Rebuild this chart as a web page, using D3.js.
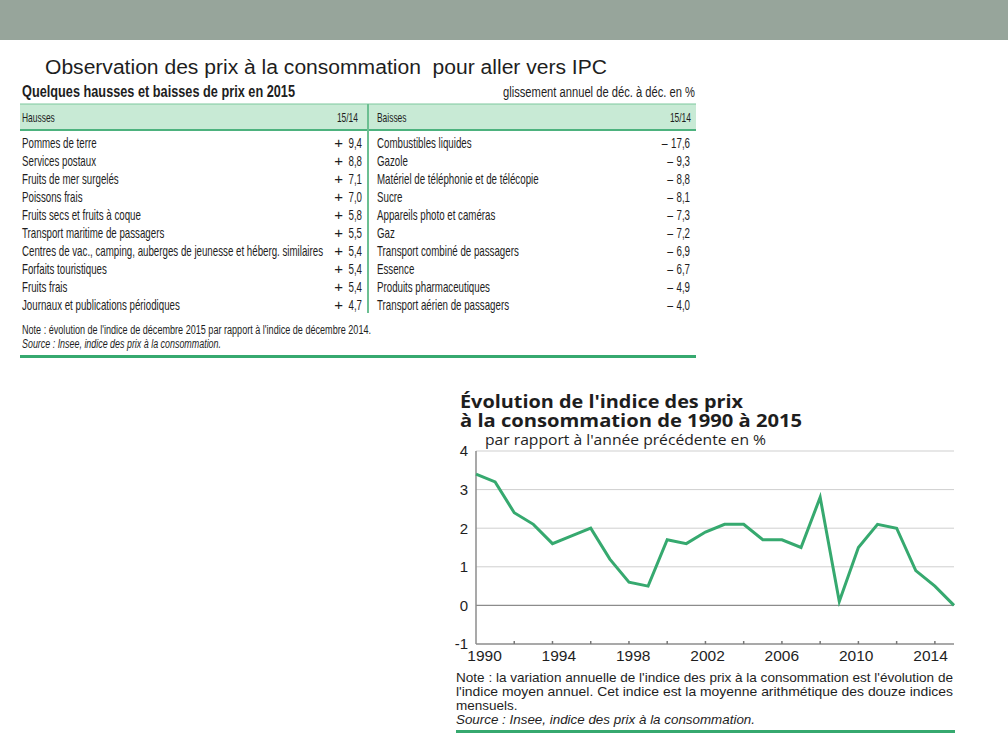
<!DOCTYPE html>
<html>
<head>
<meta charset="utf-8">
<script src="https://cdn.jsdelivr.net/npm/d3@7"></script>
<style>
  body { margin: 0; background: #fff; }
  svg { display: block; }
  text { font-family: "Liberation Sans", Arial, sans-serif; fill: #1e1e1e; font-variant-ligatures: none; }
</style>
</head>
<body>
<script>
// --- table data
var hausseLabels = ['Pommes de terre', 'Services postaux', 'Fruits de mer surgelés', 'Poissons frais',
  'Fruits secs et fruits à coque', 'Transport maritime de passagers',
  'Centres de vac., camping, auberges de jeunesse et héberg. similaires',
  'Forfaits touristiques', 'Fruits frais', 'Journaux et publications périodiques'];
var hausseValues = [9.4, 8.8, 7.1, 7.0, 5.8, 5.5, 5.4, 5.4, 5.4, 4.7];
var baisseLabels = ['Combustibles liquides', 'Gazole', 'Matériel de téléphonie et de télécopie', 'Sucre',
  'Appareils photo et caméras', 'Gaz', 'Transport combiné de passagers', 'Essence',
  'Produits pharmaceutiques', 'Transport aérien de passagers'];
var baisseValues = [-17.6, -9.3, -8.8, -8.1, -7.3, -7.2, -6.9, -6.7, -4.9, -4.0];

// --- line chart data
var years = [1990, 1991, 1992, 1993, 1994, 1995, 1996, 1997, 1998, 1999, 2000, 2001, 2002,
  2003, 2004, 2005, 2006, 2007, 2008, 2009, 2010, 2011, 2012, 2013, 2014, 2015];
var ipc = [3.4, 3.2, 2.4, 2.1, 1.6, 1.8, 2.0, 1.2, 0.6, 0.5, 1.7, 1.6, 1.9,
  2.1, 2.1, 1.7, 1.7, 1.5, 2.8, 0.1, 1.5, 2.1, 2.0, 0.9, 0.5, 0.0];
var yTicks = [-1, 0, 1, 2, 3, 4];
var xLabelYears = [1990, 1994, 1998, 2002, 2006, 2010, 2014];
var xMinorYears = [1992, 1994, 1996, 1998, 2000, 2002, 2004, 2006, 2008, 2010, 2012, 2014];

var green = '#36a96f';

var svg = d3.select('body').append('svg')
  .attr('width', 1008)
  .attr('height', 756);

// measure a string in a given font
function textWidth(str, font) {
  var t = svg.append('text').style('font', font).text(str);
  var w = t.node().getComputedTextLength();
  t.remove();
  return w;
}

// squeeze text horizontally (condensed look)
function condense(sel, k) {
  sel.each(function () {
    var w = this.getComputedTextLength();
    d3.select(this).attr('textLength', w * k).attr('lengthAdjust', 'spacingAndGlyphs');
  });
}

function frNum(v) {
  return d3.format('.1f')(Math.abs(v)).replace('.', ',');
}

// banner + page title
svg.append('rect').attr('x', 0).attr('y', 0).attr('width', 1008).attr('height', 40).attr('fill', '#97a59b');
svg.append('text')
  .attr('x', 45).attr('y', 74)
  .style('font-size', '20px')
  .style('white-space', 'pre')
  .attr('fill', '#000')
  .text('Observation des prix à la consommation  pour aller vers IPC')
  .attr('textLength', 562).attr('lengthAdjust', 'spacingAndGlyphs');

// ---------------- table
var k = 301 / textWidth(hausseLabels[6], '15px "Liberation Sans"');
var table = svg.append('g');

table.append('text')
  .attr('x', 22).attr('y', 97)
  .style('font-size', '17px').style('font-weight', 'bold')
  .text('Quelques hausses et baisses de prix en 2015')
  .attr('textLength', 273).attr('lengthAdjust', 'spacingAndGlyphs');

table.append('text')
  .attr('x', 695).attr('y', 97)
  .attr('text-anchor', 'end')
  .style('font-size', '14px')
  .text('glissement annuel de déc. à déc. en %')
  .attr('textLength', 192).attr('lengthAdjust', 'spacingAndGlyphs');

table.append('rect')
  .attr('x', 20).attr('y', 104).attr('width', 676).attr('height', 26)
  .attr('fill', '#c8ead5');
table.append('line').attr('x1', 20).attr('x2', 696).attr('y1', 104).attr('y2', 104)
  .attr('stroke', '#7cc79d').attr('stroke-width', 1);
table.append('line').attr('x1', 20).attr('x2', 696).attr('y1', 130).attr('y2', 130)
  .attr('stroke', '#4db27e').attr('stroke-width', 2);
table.append('line').attr('x1', 368).attr('x2', 368).attr('y1', 104).attr('y2', 313)
  .attr('stroke', '#6cbf92').attr('stroke-width', 2);

var header = [
  { t: 'Hausses', x: 22, a: 'start' }, { t: '15/14', x: 358, a: 'end' },
  { t: 'Baisses', x: 377, a: 'start' }, { t: '15/14', x: 691, a: 'end' }
];
table.selectAll('.hdr').data(header).enter().append('text')
  .attr('class', 'hdr')
  .attr('x', function (d) { return d.x; }).attr('y', 122)
  .attr('text-anchor', function (d) { return d.a; })
  .style('font-size', '13px')
  .text(function (d) { return d.t; })
  .call(condense, k);

var rowY = d3.scalePoint().domain(d3.range(hausseLabels.length)).range([148, 310]);

function rows(labels, values, xLabel, xValue, xSign, sign) {
  table.selectAll(null).data(labels).enter().append('text')
    .attr('x', xLabel).attr('y', function (d, i) { return rowY(i); })
    .style('font-size', '15px')
    .text(function (d) { return d; })
    .call(condense, k);
  table.selectAll(null).data(values).enter().append('text')
    .attr('x', xValue).attr('y', function (d, i) { return rowY(i); })
    .attr('text-anchor', 'end')
    .style('font-size', '15px')
    .text(function (d) { return frNum(d); })
    .call(condense, k);
  table.selectAll(null).data(values).enter().append('text')
    .attr('x', function (d) { return xSign(d); }).attr('y', function (d, i) { return rowY(i); })
    .attr('text-anchor', 'end')
    .style('font-size', '15px')
    .text(sign)
    .call(condense, sign === '+' ? 1 : 0.7);
}
rows(hausseLabels, hausseValues, 22, 362, function () { return 343; }, '+');
rows(baisseLabels, baisseValues, 377, 690, function (d) {
  return 690 - textWidth(frNum(d), '15px "Liberation Sans"') * k - 3.5;
}, '–');

table.append('text')
  .attr('x', 22).attr('y', 334)
  .style('font-size', '12.5px')
  .text('Note : évolution de l\'indice de décembre 2015 par rapport à l\'indice de décembre 2014.')
  .attr('textLength', 349).attr('lengthAdjust', 'spacingAndGlyphs');
table.append('text')
  .attr('x', 22).attr('y', 348)
  .style('font-size', '12.5px').style('font-style', 'italic')
  .text('Source : Insee, indice des prix à la consommation.')
  .attr('textLength', 199).attr('lengthAdjust', 'spacingAndGlyphs');
table.append('line').attr('x1', 20).attr('x2', 696).attr('y1', 356.5).attr('y2', 356.5)
  .attr('stroke', green).attr('stroke-width', 3);

// ---------------- line chart
var x = d3.scaleLinear().domain([1990, 2015]).range([476, 954]);
var y = d3.scaleLinear().domain([-1, 4]).range([644, 451]);
// year labels sit slightly off their ticks in the original
var xLab = d3.scaleLinear().domain([1990, 2014]).range([484, 930]);
var chart = svg.append('g');

chart.append('text')
  .attr('x', 460).attr('y', 408)
  .style('font-family', '"Open Sans", Lato, sans-serif')
  .style('font-size', '18px').style('font-weight', 'bold')
  .attr('fill', '#111')
  .text('Évolution de l\'indice des prix')
  .attr('textLength', 283).attr('lengthAdjust', 'spacingAndGlyphs');
chart.append('text')
  .attr('x', 460).attr('y', 427)
  .style('font-family', '"Open Sans", Lato, sans-serif')
  .style('font-size', '18px').style('font-weight', 'bold')
  .attr('fill', '#111')
  .text('à la consommation de 1990 à 2015')
  .attr('textLength', 342).attr('lengthAdjust', 'spacingAndGlyphs');

// gridlines
chart.selectAll('.grid').data(yTicks.filter(function (d) { return d > 0; })).enter().append('line')
  .attr('class', 'grid')
  .attr('x1', x(1990)).attr('x2', x(2015))
  .attr('y1', function (d) { return y(d); }).attr('y2', function (d) { return y(d); })
  .attr('stroke', '#cfcfcf').attr('stroke-width', 1);
chart.append('line')
  .attr('x1', x(1990)).attr('x2', x(2015)).attr('y1', y(0)).attr('y2', y(0))
  .attr('stroke', '#8c8c8c').attr('stroke-width', 1.3);

chart.append('text')
  .attr('x', 485).attr('y', 445)
  .style('font-family', '"Open Sans", Lato, sans-serif')
  .style('font-size', '15px')
  .text('par rapport à l\'année précédente en %')
  .attr('textLength', 281).attr('lengthAdjust', 'spacingAndGlyphs');

// axes
chart.append('line')
  .attr('x1', x(1990)).attr('x2', x(1990)).attr('y1', y(4)).attr('y2', y(-1))
  .attr('stroke', '#8c8c8c').attr('stroke-width', 1.5);
chart.append('line')
  .attr('x1', x(1990)).attr('x2', x(2015)).attr('y1', y(-1)).attr('y2', y(-1))
  .attr('stroke', '#8c8c8c').attr('stroke-width', 1.5);
chart.selectAll('.minor').data(xMinorYears).enter().append('line')
  .attr('class', 'minor')
  .attr('x1', function (d) { return x(d); }).attr('x2', function (d) { return x(d); })
  .attr('y1', y(-1)).attr('y2', y(-1) - 3)
  .attr('stroke', '#777').attr('stroke-width', 1.5);

var yAxis = chart.append('g')
  .attr('transform', 'translate(' + (x(1990) - 1) + ',0)')
  .call(d3.axisLeft(y).tickValues(yTicks).tickSize(0).tickPadding(7)
    .tickFormat(function (d) { return String(d); }));
yAxis.select('.domain').remove();
yAxis.selectAll('text')
  .style('font-family', '"Liberation Sans", Arial, sans-serif')
  .style('font-size', '15px').attr('fill', '#222');

var xAxis = chart.append('g')
  .attr('transform', 'translate(0,' + y(-1) + ')')
  .call(d3.axisBottom(xLab).tickValues(xLabelYears).tickSize(0).tickPadding(6).tickFormat(d3.format('d')));
xAxis.select('.domain').remove();
xAxis.selectAll('text')
  .style('font-family', '"Liberation Sans", Arial, sans-serif')
  .style('font-size', '15.5px').attr('fill', '#222');

chart.append('path')
  .datum(years)
  .attr('fill', 'none')
  .attr('stroke', green)
  .attr('stroke-width', 3)
  .attr('d', d3.line()
    .x(function (d) { return x(d); })
    .y(function (d, i) { return y(ipc[i]); }));

// notes
var noteLines = [
  'Note : la variation annuelle de l\'indice des prix à la consommation est l\'évolution de',
  'l\'indice moyen annuel. Cet indice est la moyenne arithmétique des douze indices'
];
chart.selectAll('.note').data(noteLines).enter().append('text')
  .attr('class', 'note')
  .attr('x', 456).attr('y', function (d, i) { return 682 + i * 14; })
  .style('font-size', '13.5px')
  .text(function (d) { return d; })
  .attr('textLength', 497).attr('lengthAdjust', 'spacingAndGlyphs');
chart.append('text')
  .attr('x', 456).attr('y', 709.5)
  .style('font-size', '13.5px')
  .text('mensuels.');
chart.append('text')
  .attr('x', 456).attr('y', 723.5)
  .style('font-size', '13.5px').style('font-style', 'italic')
  .text('Source : Insee, indice des prix à la consommation.')
  .attr('textLength', 299).attr('lengthAdjust', 'spacingAndGlyphs');
chart.append('line').attr('x1', 456).attr('x2', 955).attr('y1', 731.5).attr('y2', 731.5)
  .attr('stroke', green).attr('stroke-width', 3);
</script>
</body>
</html>
